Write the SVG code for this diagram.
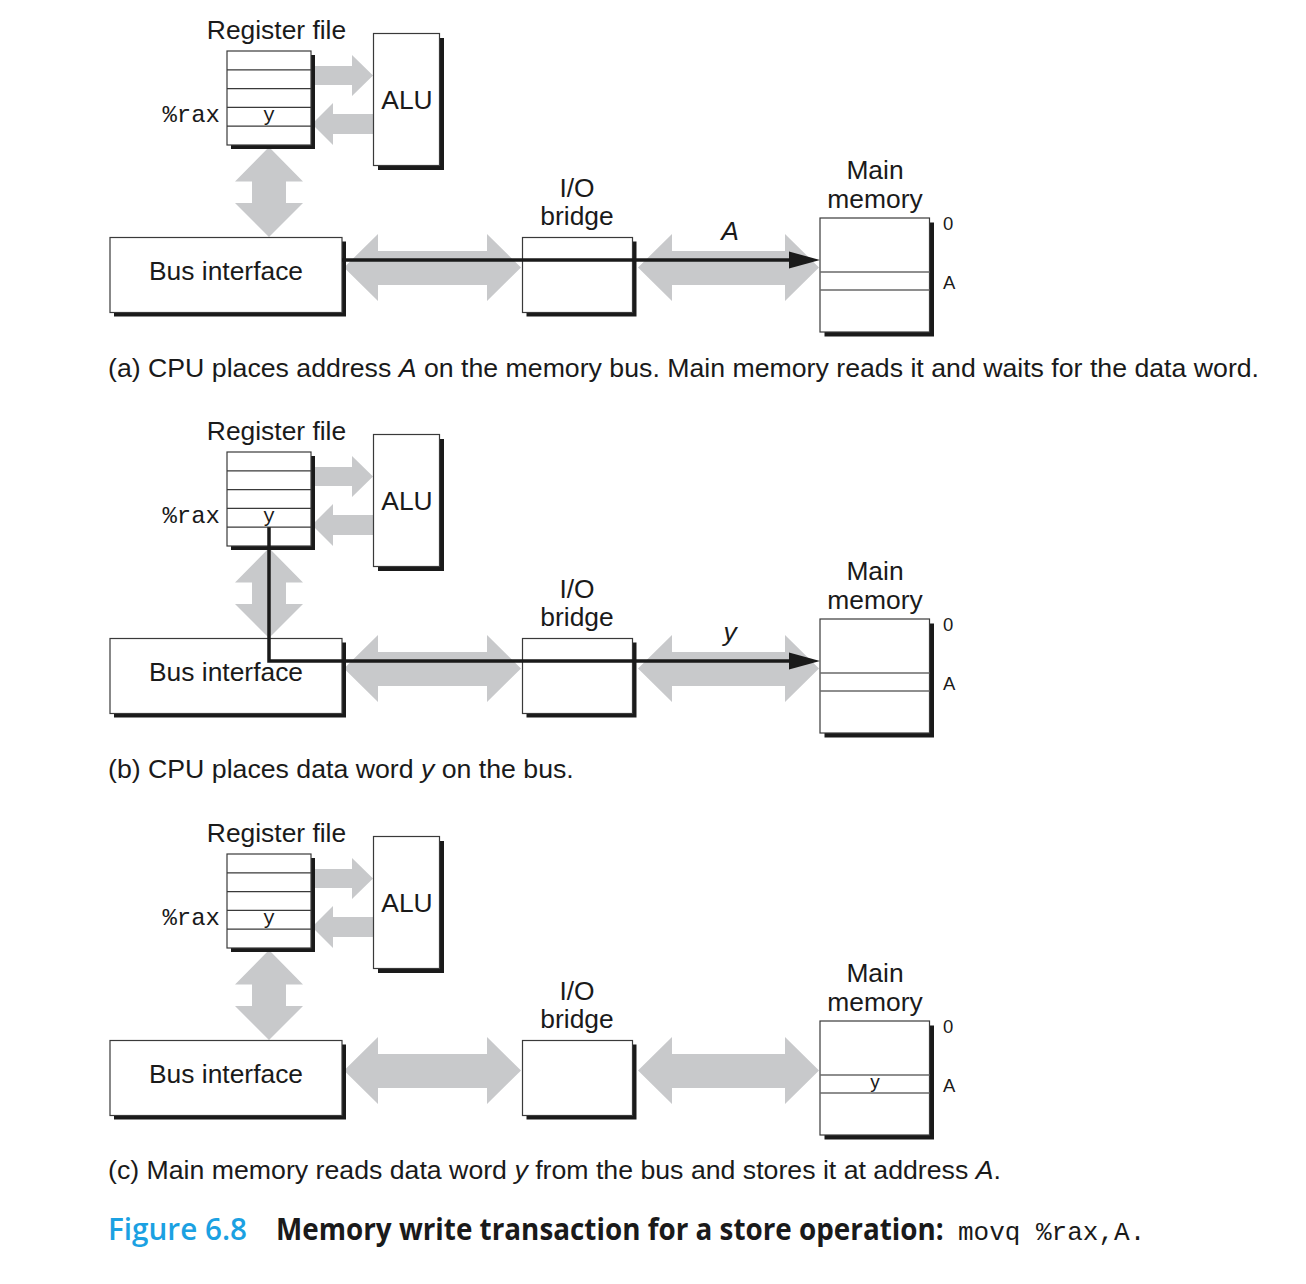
<svg xmlns="http://www.w3.org/2000/svg" width="1306" height="1284" viewBox="0 0 1306 1284">
<style>
.box{fill:#fff;stroke:#3a3a3a;stroke-width:1.2}
.shadow{fill:#1a1a1a}
.row{fill:none;stroke:#3a3a3a;stroke-width:1.2}
.mrow{fill:none;stroke:#6a6a6a;stroke-width:1.4}
.bus{fill:#c8c9cb}
.wire{fill:none;stroke:#1a1a1a;stroke-width:3.5}
.head{fill:#1a1a1a}
text{font-family:"Liberation Sans",Arial,Helvetica,sans-serif;fill:#1a1a1a}
.lbl{font-size:26.4px}
.mid{text-anchor:middle}
.mono{font-family:"Liberation Mono","Courier New",monospace}
.small{font-size:18.5px}
.cap{font-size:26.7px}
</style>
<defs>
<g id="regfile-base">
<rect class="shadow" x="231" y="55" width="84" height="94"/>
<rect class="box" x="227" y="51" width="84" height="94"/>
<path class="row" d="M227,69.8H311M227,88.6H311M227,107.4H311M227,126.2H311"/>
<text class="mono" x="220" y="122" text-anchor="end" font-size="24">%rax</text>
<text class="mono mid" x="269" y="121" font-size="20">y</text>
<text class="lbl mid" x="276.5" y="39">Register file</text>
</g>
<g id="alu-base">
<rect class="shadow" x="378" y="38" width="66" height="132"/>
<rect class="box" x="373.5" y="33.5" width="66" height="132"/>
<text class="lbl mid" x="407" y="109">ALU</text>
</g>
<g id="busif-base">
<rect class="shadow" x="114" y="241.5" width="232" height="75"/>
<rect class="box" x="110" y="237.5" width="232" height="75"/>
<text class="lbl mid" x="226" y="280">Bus interface</text>
</g>
<g id="bridge-base">
<rect class="shadow" x="526.5" y="241.5" width="110" height="75"/>
<rect class="box" x="522.5" y="237.5" width="110" height="75"/>
<text class="lbl mid" x="577" y="197">I/O</text>
<text class="lbl mid" x="577" y="225">bridge</text>
</g>
<g id="mem-base">
<rect class="shadow" x="824.5" y="222.5" width="109.5" height="114"/>
<rect class="box" x="820" y="218" width="109.5" height="114"/>
<path class="mrow" d="M820,272H929.5M820,290H929.5"/>
<text class="lbl mid" x="875" y="179">Main</text>
<text class="lbl mid" x="875" y="208">memory</text>
<text class="small" x="943" y="230">0</text>
<text class="small" x="943" y="289">A</text>
</g>
<g id="gray-buses">
<polygon class="bus" points="311,66 352,66 352,55 373,75.5 352,96 352,85 311,85"/>
<polygon class="bus" points="373,114 333,114 333,103 312,124 333,145 333,134 373,134"/>
<polygon class="bus" points="269,147 303,181.5 286,181.5 286,203 303,203 269,237 235,203 252,203 252,181.5 235,181.5"/>
<polygon class="bus" points="344,267.5 378,234 378,251 487,251 487,234 521,267.5 487,301 487,285 378,285 378,301"/>
<polygon class="bus" points="638,267.5 672,234 672,251 785,251 785,234 819,267.5 785,301 785,285 672,285 672,301"/>
</g>
</defs>

<!-- Panel (a) -->
<g id="panel-a">
<g id="a-connectors">
<use href="#gray-buses"/>
</g>
<g id="a-regfile"><use href="#regfile-base"/></g>
<g id="a-alu"><use href="#alu-base"/></g>
<g id="a-businterface"><use href="#busif-base"/></g>
<g id="a-iobridge"><use href="#bridge-base"/></g>
<g id="a-mainmemory"><use href="#mem-base"/></g>
<g id="a-wire">
<path class="wire" d="M342,260H792"/>
<polygon class="head" points="789,251.5 820,260 789,268.5"/>
<text class="lbl mid" x="730" y="240" font-style="italic">A</text>
</g>
<text class="cap" x="108" y="377">(a) CPU places address <tspan font-style="italic">A</tspan> on the memory bus. Main memory reads it and waits for the data word.</text>
</g>

<!-- Panel (b) -->
<g id="panel-b" transform="translate(0,401)">
<g id="b-connectors">
<use href="#gray-buses"/>
</g>
<g id="b-regfile"><use href="#regfile-base"/></g>
<g id="b-alu"><use href="#alu-base"/></g>
<g id="b-businterface"><use href="#busif-base"/></g>
<g id="b-iobridge"><use href="#bridge-base"/></g>
<g id="b-mainmemory"><use href="#mem-base"/></g>
<g id="b-wire">
<path class="wire" d="M269,126.2V260H792"/>
<polygon class="head" points="789,251.5 820,260 789,268.5"/>
<text class="lbl mid" x="730" y="240" font-style="italic">y</text>
</g>
<text class="cap" x="108" y="377">(b) CPU places data word <tspan font-style="italic">y</tspan> on the bus.</text>
</g>

<!-- Panel (c) -->
<g id="panel-c" transform="translate(0,803)">
<g id="c-connectors">
<use href="#gray-buses"/>
</g>
<g id="c-regfile"><use href="#regfile-base"/></g>
<g id="c-alu"><use href="#alu-base"/></g>
<g id="c-businterface"><use href="#busif-base"/></g>
<g id="c-iobridge"><use href="#bridge-base"/></g>
<g id="c-mainmemory"><use href="#mem-base"/>
<text class="mid" x="875" y="285" font-size="19">y</text>
</g>
<text class="cap" x="108" y="376">(c) Main memory reads data word <tspan font-style="italic">y</tspan> from the bus and stores it at address <tspan font-style="italic">A</tspan>.</text>
</g>

<!-- Figure caption -->
<g id="figure-caption">
<text x="108" y="1240" style="font-family:'Open Sans','Liberation Sans',sans-serif;font-weight:600;font-size:30px;fill:#1ba1e2" textLength="139" lengthAdjust="spacingAndGlyphs">Figure 6.8</text>
<text transform="translate(276,1240) scale(0.93,1)" x="0" y="0" style="font-family:'Open Sans','Liberation Sans',sans-serif;font-weight:700;font-size:30px" textLength="718" lengthAdjust="spacingAndGlyphs">Memory write transaction for a store operation:</text>
<text class="mono" x="958" y="1240" font-size="26">movq %rax,A.</text>
</g>
</svg>
